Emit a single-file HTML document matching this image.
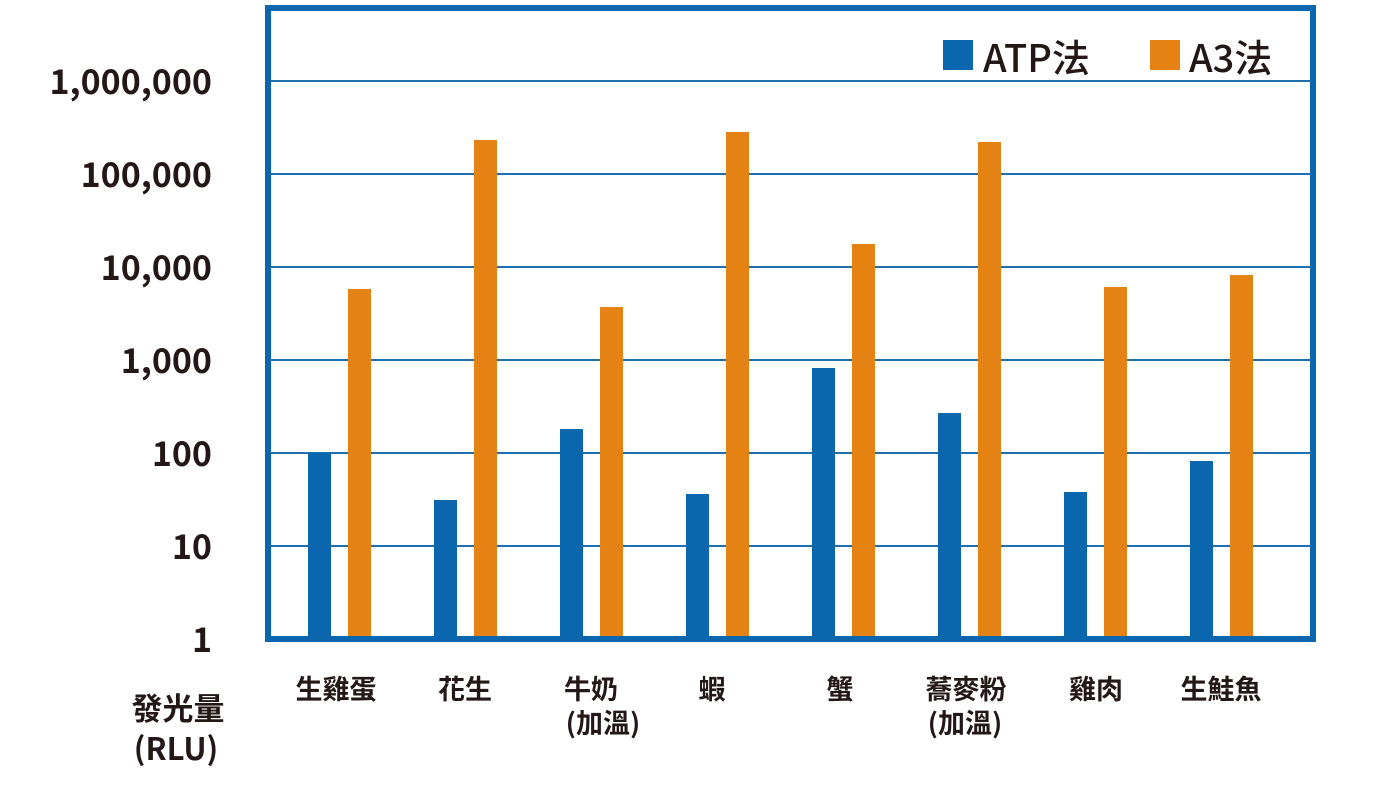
<!DOCTYPE html>
<html><head><meta charset="utf-8"><style>
body{margin:0;background:#fff;width:1376px;height:785px;overflow:hidden}
text{font-family:"Noto Sans CJK TC","Liberation Sans",sans-serif;font-weight:bold;fill:#231815}
</style></head><body>
<svg width="1376" height="785" viewBox="0 0 1376 785">
<g stroke="#1d6fae" stroke-width="2">
<line x1="268" x2="1313" y1="81" y2="81"/><line x1="268" x2="1313" y1="174" y2="174"/>
<line x1="268" x2="1313" y1="267" y2="267"/><line x1="268" x2="1313" y1="360" y2="360"/>
<line x1="268" x2="1313" y1="453" y2="453"/><line x1="268" x2="1313" y1="546" y2="546"/>
</g>
<g fill="#0a67ad">
<rect x="308" y="453" width="23" height="186"/><rect x="434" y="500" width="23" height="139"/>
<rect x="560" y="429" width="23" height="210"/><rect x="686" y="494" width="23" height="145"/>
<rect x="812" y="368" width="23" height="271"/><rect x="938" y="413" width="23" height="226"/>
<rect x="1064" y="492" width="23" height="147"/><rect x="1190" y="461" width="23" height="178"/>
<rect x="943" y="40" width="30" height="30"/>
</g>
<g fill="#e58214">
<rect x="348" y="289" width="23" height="350"/><rect x="474" y="140" width="23" height="499"/>
<rect x="600" y="307" width="23" height="332"/><rect x="726" y="132" width="23" height="507"/>
<rect x="852" y="244" width="23" height="395"/><rect x="978" y="142" width="23" height="497"/>
<rect x="1104" y="287" width="23" height="352"/><rect x="1230" y="275" width="23" height="364"/>
<rect x="1150" y="40" width="30" height="30"/>
</g>
<rect x="268" y="8" width="1045" height="631" fill="none" stroke="#0a67ad" stroke-width="6"/>
<text x="983" y="72" font-size="38" style="font-weight:500">ATP法</text>
<text x="1189" y="72" font-size="38" style="font-weight:500">A3法</text>
<g font-size="34" text-anchor="end">
<text x="212" y="94">1,000,000</text><text x="212" y="187">100,000</text>
<text x="212" y="280">10,000</text><text x="212" y="373">1,000</text>
<text x="212" y="466">100</text><text x="212" y="559">10</text><text x="212" y="652">1</text>
</g>
<g font-size="27" text-anchor="middle">
<text x="178" y="720" font-size="31">發光量</text><text x="176" y="760" font-size="31">(RLU)</text>
<text x="336" y="699">生雞蛋</text><text x="465" y="699">花生</text>
<text x="591" y="699">牛奶</text><text x="603" y="733">(加溫)</text>
<text x="712" y="699">蝦</text><text x="840" y="699">蟹</text>
<text x="966" y="699">蕎麥粉</text><text x="965" y="733">(加溫)</text>
<text x="1096" y="699">雞肉</text><text x="1221" y="699">生鮭魚</text>
</g>
</svg>
</body></html>
